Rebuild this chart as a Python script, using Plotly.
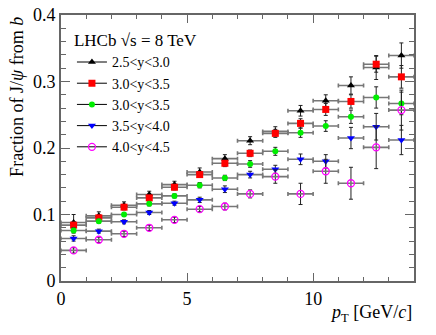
import plotly.graph_objects as go

# pT bin centres [GeV/c]
pt = [0.5, 1.5, 2.5, 3.5, 4.5, 5.5, 6.5, 7.5, 8.5, 9.5, 10.5, 11.5, 12.5, 13.5]
pt_halfwidth = 0.5

labels = ["2.5<y<3.0", "3.0<y<3.5", "3.0<y<3.5", "3.5<y<4.0", "4.0<y<4.5"]

frac_y25_30 = [0.088, 0.098, 0.114, 0.130, 0.145, 0.164, 0.184, 0.211, 0.225, 0.256, 0.271, 0.294, 0.321, 0.339]
frac_y30_35 = [0.084, 0.095, 0.111, 0.125, 0.141, 0.160, 0.177, 0.192, 0.222, 0.237, 0.258, 0.270, 0.326, 0.307]
frac_y30_35b = [0.076, 0.090, 0.100, 0.116, 0.128, 0.144, 0.155, 0.176, 0.195, 0.223, 0.233, 0.247, 0.276, 0.267]
frac_y35_40 = [0.064, 0.075, 0.089, 0.103, 0.117, 0.122, 0.138, 0.160, 0.168, 0.183, 0.180, 0.215, 0.232, 0.212]
frac_y40_45 = [0.046, 0.062, 0.071, 0.080, 0.092, 0.108, 0.112, 0.131, 0.157, 0.131, 0.165, 0.147, 0.201, 0.257]

err_y25_30 = [0.012, 0.006, 0.005, 0.005, 0.005, 0.006, 0.006, 0.006, 0.007, 0.008, 0.009, 0.013, 0.018, 0.019]
err_y30_35 = [0.005, 0.004, 0.004, 0.004, 0.004, 0.004, 0.005, 0.005, 0.006, 0.007, 0.009, 0.010, 0.012, 0.017]
err_y30_35b = [0.004, 0.003, 0.003, 0.003, 0.003, 0.004, 0.004, 0.005, 0.006, 0.007, 0.008, 0.010, 0.016, 0.017]
err_y35_40 = [0.004, 0.003, 0.003, 0.003, 0.003, 0.004, 0.005, 0.005, 0.006, 0.008, 0.010, 0.016, 0.020, 0.022]
err_y40_45 = [0.004, 0.004, 0.004, 0.004, 0.004, 0.004, 0.005, 0.006, 0.010, 0.016, 0.018, 0.024, 0.032, 0.030]

series = [
    (frac_y25_30, err_y25_30, "triangle-up", "black", 7),
    (frac_y30_35, err_y30_35, "square", "#ff0000", 7),
    (frac_y30_35b, err_y30_35b, "circle", "#00ee00", 6),
    (frac_y35_40, err_y35_40, "triangle-down", "#0000ff", 7),
    (frac_y40_45, err_y40_45, "circle-open", "#ff00ff", 7),
]

FONT = "Liberation Serif, Times New Roman, serif"
AXIS_COL = "#666666"

fig = go.Figure()

# data points with errors
for (vals, errs, sym, col, size), lab in zip(series, labels):
    fig.add_trace(go.Scatter(
        x=pt, y=vals, mode="markers", showlegend=False,
        marker=dict(symbol=sym, color=col, size=size,
                    line=dict(color=col, width=1.3 if sym == "circle-open" else 0)),
        error_x=dict(type="constant", value=pt_halfwidth, color="#777777", thickness=1.6, width=2),
        error_y=dict(type="data", array=errs, color="#222222", thickness=1, width=2),
    ))

# legend entries (line through marker, like the ROOT legend)
for (vals, errs, sym, col, size), lab in zip(series, labels):
    fig.add_trace(go.Scatter(
        x=[None], y=[None], mode="lines+markers", name=lab,
        line=dict(color="black", width=1),
        marker=dict(symbol=sym, color=col, size=size,
                    line=dict(color=col, width=1.3 if sym == "circle-open" else 0)),
    ))

fig.add_annotation(
    x=1, y=-0.07, xref="paper", yref="paper", xanchor="right", yanchor="top",
    text="<i>p</i><sub>T</sub> [GeV/<i>c</i>]", showarrow=False,
    font=dict(family=FONT, size=18, color="black"),
)
fig.add_annotation(
    x=-0.125, y=1.0, xref="paper", yref="paper", xanchor="center", yanchor="top",
    text="Fraction of J/<i>ψ</i> from <i>b</i>", textangle=-90, showarrow=False,
    font=dict(family=FONT, size=18, color="black"),
)

axis_common = dict(
    showgrid=False, zeroline=False, showline=True, linecolor=AXIS_COL, linewidth=2,
    mirror="allticks", ticks="inside", tickcolor=AXIS_COL, tickwidth=1,
    tickfont=dict(family=FONT, size=18, color="black"), automargin=False,
)

fig.update_layout(
    width=436, height=335,
    margin=dict(l=61, r=22, t=15, b=54),
    paper_bgcolor="white", plot_bgcolor="white",
    font=dict(family=FONT, size=18, color="black"),
    xaxis=dict(range=[0, 14], dtick=5, ticklen=8,
               minor=dict(dtick=1, ticks="inside", ticklen=4, tickcolor=AXIS_COL),
               **axis_common),
    yaxis=dict(range=[0, 0.4], dtick=0.1, ticklen=9, tickformat=".1~f",
               minor=dict(dtick=0.02, ticks="inside", ticklen=5, tickcolor=AXIS_COL),
               **axis_common),
    legend=dict(
        x=0.031, y=0.965, xanchor="left", yanchor="top",
        bgcolor="rgba(0,0,0,0)", itemwidth=30,
        font=dict(family=FONT, size=14, color="black"),
        title=dict(text="LHCb √s = 8 TeV", font=dict(family=FONT, size=17)),
        tracegroupgap=0,
    ),
)

# drop the default page margin so the figure sits at the window's corner
fig.write_html("out.html", config={"displayModeBar": False},
               post_script="document.body.style.margin='0px';")
